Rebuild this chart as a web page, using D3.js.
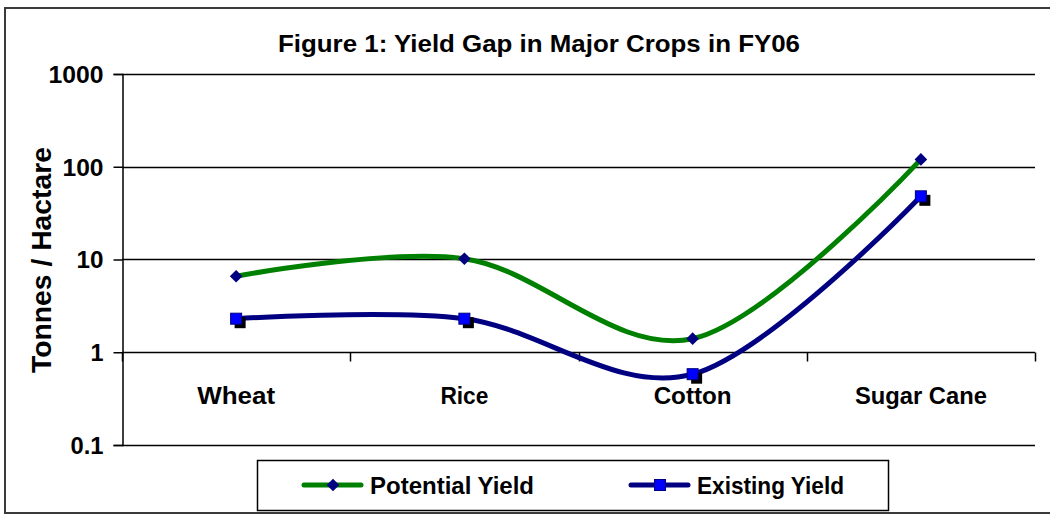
<!DOCTYPE html>
<html><head><meta charset="utf-8">
<script src="https://cdn.jsdelivr.net/npm/d3@7"></script>
<style>html,body{margin:0;padding:0;background:#fff;}svg{display:block;}</style>
</head><body>
<script>
const categories = ["Wheat", "Rice", "Cotton", "Sugar Cane"];
const potentialYield = [6.6, 10.2, 1.4, 120];
const existingYield = [2.3, 2.3, 0.58, 48];
const yTicks = [0.1, 1, 10, 100, 1000];
const yTickLabels = ["0.1", "1", "10", "100", "1000"];
const seriesNames = ["Potential Yield", "Existing Yield"];
const title = "Figure 1: Yield Gap in Major Crops in FY06";
const yTitle = "Tonnes / Hactare";

const W = 1050, H = 515;
const m = {left: 122, right: 1035, top: 74, bottom: 445};
const FONT = "'Liberation Sans', Arial, sans-serif";

const svg = d3.select("body").append("svg").attr("width", W).attr("height", H);

// outer border
svg.append("rect").attr("x", 5).attr("y", 8).attr("width", 1070).attr("height", 505)
  .attr("fill", "none").attr("stroke", "#3a3a3a").attr("stroke-width", 2);

const x = d3.scaleBand().domain(categories).range([m.left, m.right]);
const y = d3.scaleLog().domain([0.1, 1000]).range([m.bottom, m.top]);

// gridlines
svg.append("g").selectAll("line").data(yTicks).join("line")
  .attr("x1", m.left).attr("x2", m.right)
  .attr("y1", d => Math.round(y(d)) + 0.5).attr("y2", d => Math.round(y(d)) + 0.5)
  .attr("stroke", "#000").attr("stroke-width", 1.5);

// y axis
const yAxis = d3.axisLeft(y).tickValues(yTicks).tickSize(9).tickPadding(10)
  .tickFormat((d, i) => yTickLabels[i]);
const gy = svg.append("g").attr("transform", `translate(${m.left + 0.5},0)`).call(yAxis);
gy.select(".domain").attr("stroke", "#000").attr("stroke-width", 1.5);
gy.selectAll(".tick line").attr("stroke", "#000").attr("stroke-width", 1.5);
const tickW = {"0.1": 33, "1": 13, "10": 27, "100": 41, "1000": 55};
gy.selectAll(".tick text").attr("font-family", FONT).attr("font-weight", "bold")
  .attr("font-size", 23).attr("fill", "#000").attr("dy", "0.36em")
  .attr("textLength", (d, i) => tickW[yTickLabels[i]]).attr("lengthAdjust", "spacingAndGlyphs");

// category axis crossing at 1
const y1 = Math.round(y(1)) + 0.5;
const bounds = categories.map(c => x(c)).concat([m.right]);
svg.append("g").selectAll("line").data(bounds).join("line")
  .attr("x1", d => Math.round(d) + 0.5).attr("x2", d => Math.round(d) + 0.5)
  .attr("y1", y1).attr("y2", y1 + 9).attr("stroke", "#000").attr("stroke-width", 1.5);

const catWidths = {"Wheat": 78, "Rice": 48, "Cotton": 78, "Sugar Cane": 132};
svg.append("g").selectAll("text").data(categories).join("text")
  .attr("x", d => x(d) + x.bandwidth() / 2).attr("y", 404)
  .attr("text-anchor", "middle").attr("font-family", FONT).attr("font-weight", "bold")
  .attr("font-size", 24).attr("fill", "#000")
  .attr("textLength", d => catWidths[d]).attr("lengthAdjust", "spacingAndGlyphs")
  .text(d => d);

// title
svg.append("text").attr("x", 539).attr("y", 52).attr("text-anchor", "middle")
  .attr("font-family", FONT).attr("font-weight", "bold").attr("font-size", 24)
  .attr("textLength", 522).attr("lengthAdjust", "spacingAndGlyphs")
  .text(title);

// y title
svg.append("text").attr("transform", "translate(51,260) rotate(-90)")
  .attr("text-anchor", "middle").attr("font-family", FONT).attr("font-weight", "bold")
  .attr("font-size", 28).attr("textLength", 226).attr("lengthAdjust", "spacingAndGlyphs")
  .text(yTitle);

// lines
const cx = c => x(c) + x.bandwidth() / 2;
const line = d3.line().x(d => cx(d.c)).y(d => y(d.v)).curve(d3.curveCardinal.tension(0));
const potData = categories.map((c, i) => ({c, v: potentialYield[i]}));
const exData = categories.map((c, i) => ({c, v: existingYield[i]}));

svg.append("path").datum(potData).attr("d", line).attr("fill", "none")
  .attr("stroke", "#008000").attr("stroke-width", 5);
svg.append("path").datum(exData).attr("d", line).attr("fill", "none")
  .attr("stroke", "#000080").attr("stroke-width", 5);

// markers
const sq = 11;
svg.append("g").selectAll("rect").data(exData).join("rect")
  .attr("x", d => cx(d.c) - sq / 2 + 4).attr("y", d => y(d.v) - sq / 2 + 4)
  .attr("width", sq).attr("height", sq).attr("fill", "#000");
svg.append("g").selectAll("rect").data(exData).join("rect")
  .attr("x", d => cx(d.c) - sq / 2).attr("y", d => y(d.v) - sq / 2)
  .attr("width", sq).attr("height", sq).attr("fill", "#0000ff")
  .attr("stroke", "#000080").attr("stroke-width", 1);
svg.append("g").selectAll("path").data(potData).join("path")
  .attr("transform", d => `translate(${cx(d.c)},${y(d.v)}) rotate(45)`)
  .attr("d", d3.symbol().type(d3.symbolSquare).size(80))
  .attr("fill", "#000080");

// legend
svg.append("rect").attr("x", 257.5).attr("y", 460.5).attr("width", 631).attr("height", 50)
  .attr("fill", "#fff").attr("stroke", "#000").attr("stroke-width", 1.5);
const legItems = [
  {name: seriesNames[0], color: "#008000", x0: 304, tx: 370, tw: 164, marker: "diamond"},
  {name: seriesNames[1], color: "#000080", x0: 631, tx: 697, tw: 147, marker: "square"}
];
const lg = svg.append("g").selectAll("g").data(legItems).join("g");
lg.append("line").attr("x1", d => d.x0).attr("x2", d => d.x0 + 57)
  .attr("y1", 485).attr("y2", 485).attr("stroke", d => d.color).attr("stroke-width", 5)
  .attr("stroke-linecap", "round");
lg.filter(d => d.marker === "diamond").append("path")
  .attr("transform", d => `translate(${d.x0 + 29},485) rotate(45)`)
  .attr("d", d3.symbol().type(d3.symbolSquare).size(80)).attr("fill", "#000080");
lg.filter(d => d.marker === "square").append("rect")
  .attr("x", d => d.x0 + 29 - sq / 2).attr("y", 485 - sq / 2).attr("width", sq).attr("height", sq)
  .attr("fill", "#0000ff").attr("stroke", "#000080").attr("stroke-width", 1);
lg.append("text").attr("x", d => d.tx).attr("y", 494)
  .attr("font-family", FONT).attr("font-weight", "bold").attr("font-size", 24)
  .attr("textLength", d => d.tw).attr("lengthAdjust", "spacingAndGlyphs")
  .text(d => d.name);
</script>
</body></html>
